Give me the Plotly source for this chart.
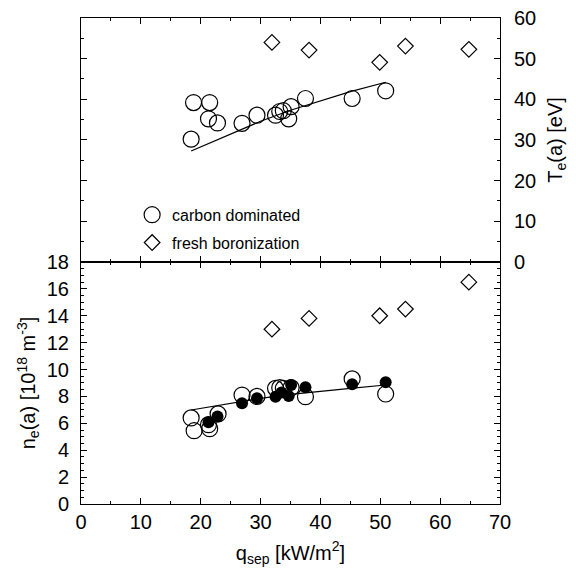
import plotly.graph_objects as go

# top panel: Te(a) [eV] vs q_sep
te_carbon_q = [18.4, 18.8, 21.5, 21.3, 22.8, 26.9, 29.4, 32.5, 33.2, 33.8, 35.1, 34.7, 37.5, 45.3, 50.9]
te_carbon = [30.2, 39.2, 39.2, 35.2, 34.2, 34.1, 36.1, 36.1, 37.0, 37.2, 38.2, 35.2, 40.2, 40.2, 42.1]
te_boron_q = [31.9, 38.1, 49.9, 54.2, 64.8]
te_boron = [54.0, 52.1, 49.1, 53.1, 52.3]
te_fit_q = [18.4, 25, 30, 35, 40, 45, 50.9]
te_fit = [27.3, 31.5, 34.6, 37.3, 39.6, 41.9, 44.2]

# bottom panel: ne(a) [1e18 m^-3] vs q_sep
ne_carbon_q = [18.4, 18.9, 21.5, 21.3, 22.9, 26.9, 29.4, 32.5, 33.2, 33.8, 35.1, 37.5, 45.3, 50.9]
ne_carbon = [6.4, 5.45, 5.6, 5.9, 6.7, 8.1, 8.0, 8.6, 8.65, 8.6, 8.65, 7.98, 9.3, 8.18]
ne_filled_q = [21.3, 22.8, 26.9, 29.4, 32.5, 33.5, 34.7, 35.1, 37.5, 45.3, 50.9]
ne_filled = [6.08, 6.5, 7.49, 7.86, 7.98, 8.3, 8.04, 8.85, 8.68, 8.9, 9.05]
ne_boron_q = [31.9, 38.1, 49.9, 54.2, 64.8]
ne_boron = [13.0, 13.8, 14.0, 14.5, 16.5]
ne_fit_q = [18.4, 25, 30, 35, 40, 45, 50.9]
ne_fit = [6.99, 7.5, 7.85, 8.15, 8.4, 8.6, 8.85]

FONT = "Liberation Sans, Arial, sans-serif"
open_circle = dict(symbol="circle-open", size=16, color="black", line=dict(width=1.2, color="black"))
open_diamond = dict(symbol="diamond-open", size=12, color="black", line=dict(width=1.2, color="black"))

fig = go.Figure()

fig.add_trace(go.Scatter(x=te_fit_q, y=te_fit, mode="lines", line=dict(color="black", width=1.2),
                         xaxis="x2", yaxis="y2", showlegend=False))
fig.add_trace(go.Scatter(x=te_carbon_q, y=te_carbon, mode="markers", marker=open_circle,
                         xaxis="x2", yaxis="y2", name="carbon dominated", legendgroup="a"))
fig.add_trace(go.Scatter(x=te_boron_q, y=te_boron, mode="markers", marker=open_diamond,
                         xaxis="x2", yaxis="y2", name="fresh boronization", legendgroup="b"))

fig.add_trace(go.Scatter(x=ne_fit_q, y=ne_fit, mode="lines", line=dict(color="black", width=1.2),
                         showlegend=False))
fig.add_trace(go.Scatter(x=ne_carbon_q, y=ne_carbon, mode="markers", marker=open_circle, showlegend=False))
fig.add_trace(go.Scatter(x=ne_filled_q, y=ne_filled, mode="markers",
                         marker=dict(symbol="circle", size=12, color="black"), showlegend=False))
fig.add_trace(go.Scatter(x=ne_boron_q, y=ne_boron, mode="markers", marker=open_diamond, showlegend=False))

axcommon = dict(showgrid=False, zeroline=False, showline=True, linecolor="black", linewidth=1,
                mirror="ticks", ticks="inside", ticklen=6, tickcolor="black", tickwidth=1,
                automargin=False, tickfont=dict(size=20, color="black"))
minor5 = dict(dtick=5, ticklen=3, ticks="inside", tickcolor="black")

fig.update_layout(
    template="none",
    width=576, height=573,
    margin=dict(l=81, r=76, t=18, b=69),
    paper_bgcolor="white", plot_bgcolor="white",
    font=dict(family=FONT, color="black"),
    xaxis=dict(axcommon, range=[0, 70], dtick=10, anchor="y", minor=minor5,
               title=dict(text="q<sub>sep</sub> [kW/m<sup>2</sup>]", font=dict(size=20), standoff=13)),
    yaxis=dict(axcommon, range=[0, 18], dtick=2, domain=[0, 0.498], anchor="x",
               ticklabelstandoff=7,
               minor=dict(dtick=0.5, ticklen=3, ticks="inside", tickcolor="black"),
               title=dict(text="n<sub>e</sub>(a) [10<sup>18</sup> m<sup>-3</sup>]", font=dict(size=20), standoff=5)),
    xaxis2=dict(axcommon, range=[0, 70], dtick=10, anchor="y2", matches="x", showticklabels=False,
                minor=minor5),
    yaxis2=dict(axcommon, range=[0, 60], dtick=10, domain=[0.498, 1], anchor="x2", side="right",
                ticklabelstandoff=9, minor=minor5,
                title=dict(text="T<sub>e</sub>(a) [eV]", font=dict(size=20), standoff=12)),
    legend=dict(x=0.122, y=0.63, xanchor="left", yanchor="top", bgcolor="rgba(0,0,0,0)",
                font=dict(size=16, color="black"), traceorder="grouped", tracegroupgap=4,
                itemwidth=30),
)

fig.write_html("out.html", config={"displayModeBar": False},
               post_script="document.body.style.margin='0px';")
